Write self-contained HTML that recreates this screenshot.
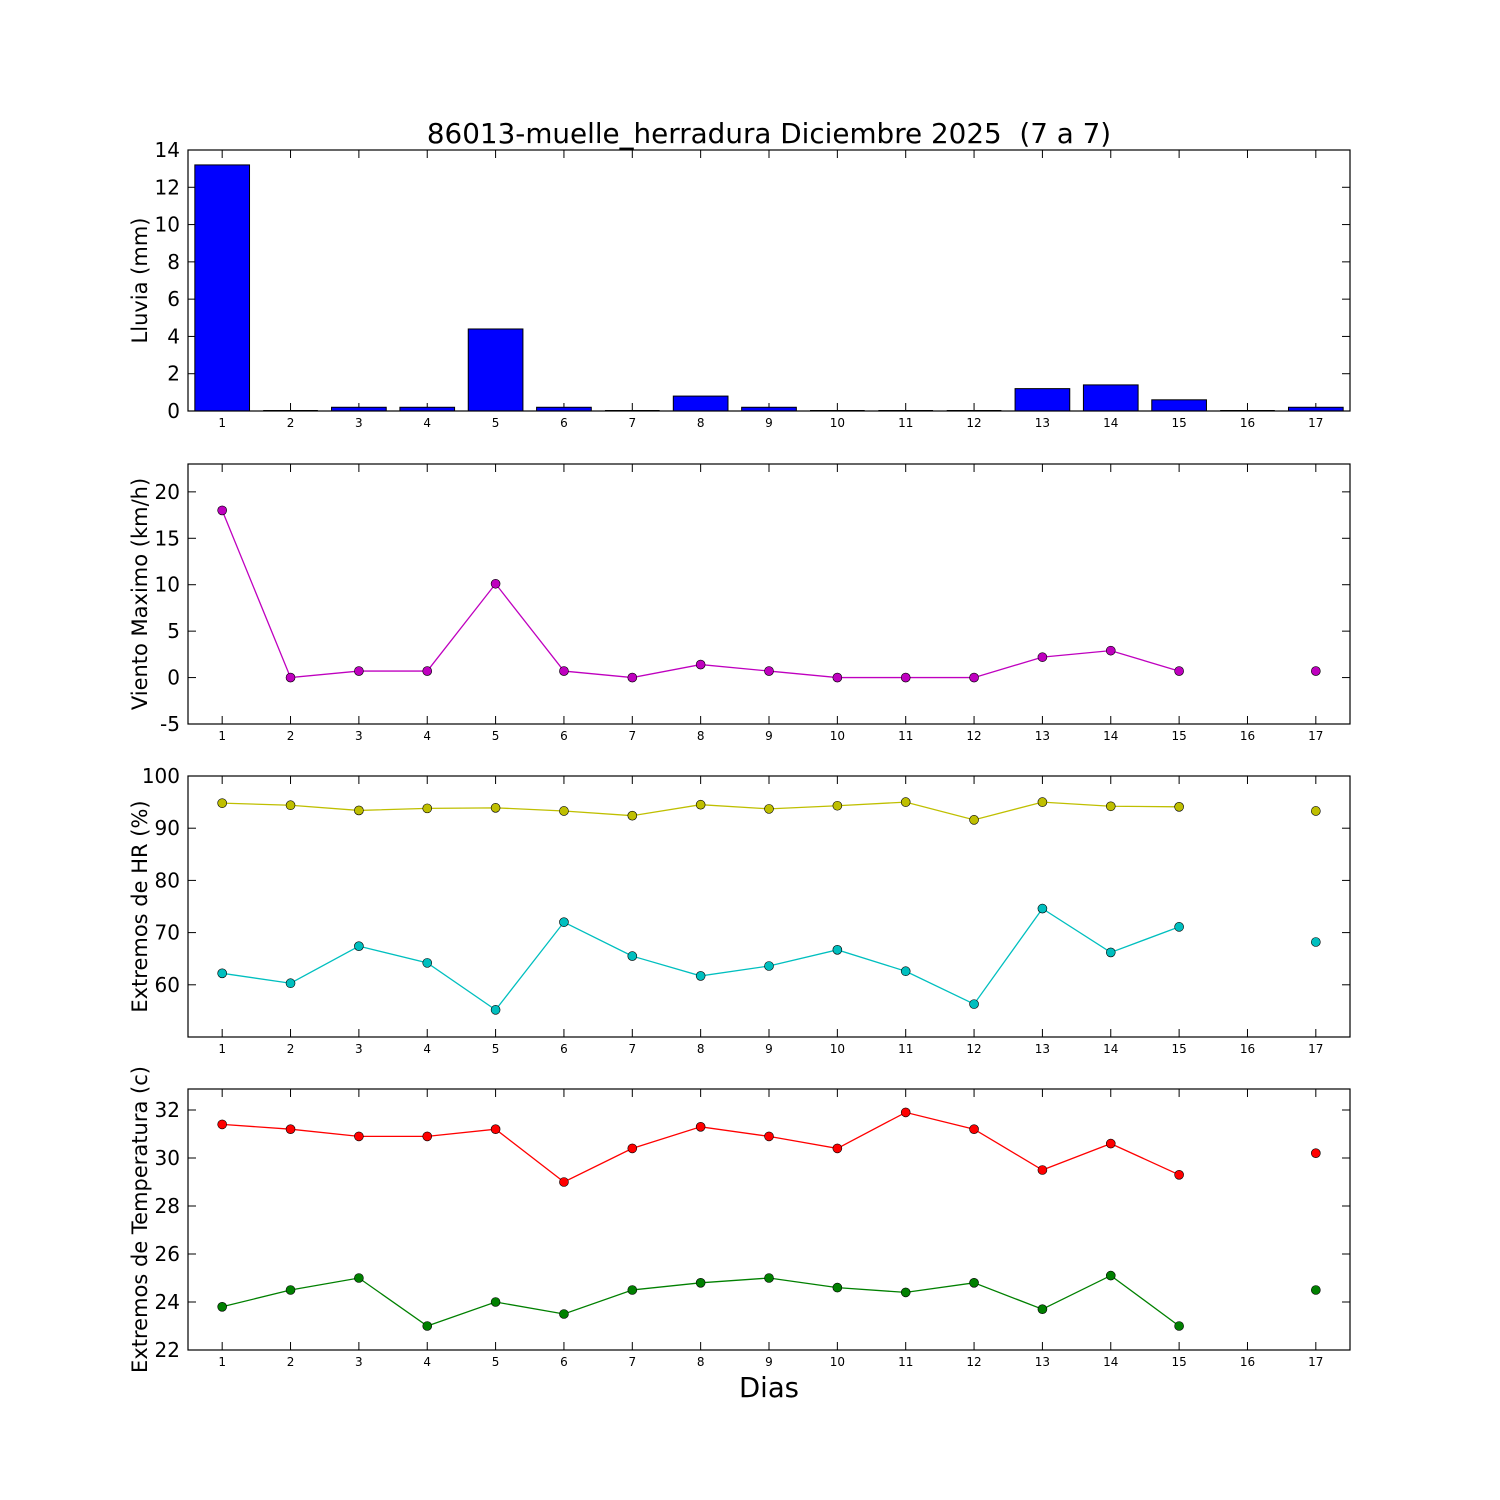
<!DOCTYPE html>
<html><head><meta charset="utf-8"><style>
html,body{margin:0;padding:0;background:#fff;}
svg{display:block;font-family:"DejaVu Sans","Liberation Sans",sans-serif;}
</style></head><body>
<svg id="chart" width="1500" height="1500" viewBox="0 0 1500 1500">
<rect x="0" y="0" width="1500" height="1500" fill="#fff"/>
<text x="769" y="143" font-size="27.8" text-anchor="middle">86013-muelle_herradura Diciembre 2025 &#160;(7 a 7)</text>
<text x="769" y="1397" font-size="27.5" text-anchor="middle">Dias</text>
</svg>
<script>
const days = [1,2,3,4,5,6,7,8,9,10,11,12,13,14,15,16,17];
const rain = [13.2,0,0.2,0.2,4.4,0.2,0,0.8,0.2,0,0,0,1.2,1.4,0.6,0,0.2];
const wind = [18,0,0.7,0.7,10.1,0.7,0,1.4,0.7,0,0,0,2.2,2.9,0.7,null,0.7];
const hrMax = [94.8,94.4,93.4,93.8,93.9,93.3,92.4,94.5,93.7,94.3,95,91.6,95,94.2,94.1,null,93.3];
const hrMin = [62.2,60.3,67.4,64.2,55.2,72,65.5,61.7,63.6,66.7,62.6,56.3,74.6,66.2,71.1,null,68.2];
const tMax = [31.4,31.2,30.9,30.9,31.2,29,30.4,31.3,30.9,30.4,31.9,31.2,29.5,30.6,29.3,null,30.2];
const tMin = [23.8,24.5,25,23,24,23.5,24.5,24.8,25,24.6,24.4,24.8,23.7,25.1,23,null,24.5];
const rainTicks = [0,2,4,6,8,10,12,14];
const windTicks = [-5,0,5,10,15,20];
const hrTicks = [60,70,80,90,100];
const tTicks = [22,24,26,28,30,32];

const NS="http://www.w3.org/2000/svg";
const svg=document.getElementById('chart');
const L=188,R=1350;
function X(d){return L+(d-0.5)/17*(R-L);}
function mk(tag,attrs,parent){const e=document.createElementNS(NS,tag);for(const k in attrs)e.setAttribute(k,attrs[k]);(parent||svg).appendChild(e);return e;}

function panel(name,top,bot,ymin,ymax,ticks,label){
  const g=mk('g',{});
  
  
  const Y=v=>bot-(v-ymin)/(ymax-ymin)*(bot-top);
  ticks.forEach(t=>{
    const y=Y(t);
    mk('line',{x1:L,x2:L+8,y1:y,y2:y,stroke:'#000','stroke-width':1},g);
    mk('line',{x1:R,x2:R-8,y1:y,y2:y,stroke:'#000','stroke-width':1},g);
    const tx=mk('text',{x:L-8,y:y+7,'font-size':20,'text-anchor':'end'},g);
    tx.textContent=t;
    
    
  });
  days.forEach(d=>{
    const x=X(d);
    mk('line',{x1:x,x2:x,y1:bot,y2:bot-8,stroke:'#000','stroke-width':1},g);
    mk('line',{x1:x,x2:x,y1:top,y2:top+8,stroke:'#000','stroke-width':1},g);
    const tx=mk('text',{x:x,y:bot+16,'font-size':12,'text-anchor':'middle'},g);
    tx.textContent=d;
    
    
  });
  const cy=(top+bot)/2;
  const yl=mk('text',{x:0,y:0,'font-size':21,'text-anchor':'middle',transform:`translate(147,${cy}) rotate(-90)`},g);
  yl.textContent=label;
  
  
  return {g,Y,top,bot};
}
function frame(p,name){
  const r=mk('rect',{x:L,y:p.top,width:R-L,height:p.bot-p.top,fill:'none',stroke:'#000','stroke-width':1.2},p.g);
  
  
}
function series(p,vals,color,name){
  let seg=[];
  const segs=[];
  vals.forEach((v,i)=>{if(v===null){if(seg.length)segs.push(seg);seg=[];}else seg.push([X(days[i]),p.Y(v)]);});
  if(seg.length)segs.push(seg);
  segs.forEach(s=>{if(s.length>1){const pl=mk('polyline',{points:s.map(q=>q.join(',')).join(' '),fill:'none',stroke:color,'stroke-width':1.3},p.g);
    
    }});
  vals.forEach((v,i)=>{if(v===null)return;
    const c=mk('circle',{cx:X(days[i]),cy:p.Y(v),r:4.5,fill:color,stroke:'#000','stroke-width':0.6},p.g);
    
    });
}

const p1=panel('rain',150,411,0,14,rainTicks,'Lluvia (mm)');
const bw=0.8/17*(R-L);
rain.forEach((v,i)=>{
  const y=p1.Y(v);
  if(v===0){
    const z=mk('line',{x1:X(days[i])-bw/2,x2:X(days[i])+bw/2,y1:p1.bot-0.5,y2:p1.bot-0.5,stroke:'#000','stroke-width':1},p1.g);
    
    
    return;
  }
  const b=mk('rect',{x:X(days[i])-bw/2,y:y,width:bw,height:p1.bot-y,fill:'#0000ff',stroke:'#000','stroke-width':1},p1.g);
  
  
});
frame(p1,'rain');

const p2=panel('wind',464,724,-5,23,windTicks,'Viento Maximo (km/h)');
series(p2,wind,'#bf00bf','wind');
frame(p2,'wind');

const p3=panel('humidity',776,1037,50,100,hrTicks,'Extremos de HR (%)');
series(p3,hrMax,'#bfbf00','humidity-max');
series(p3,hrMin,'#00bfbf','humidity-min');
frame(p3,'humidity');

const p4=panel('temperature',1089,1350,22,32.875,tTicks,'Extremos de Temperatura (c)');
series(p4,tMax,'#ff0000','temperature-max');
series(p4,tMin,'#008000','temperature-min');
frame(p4,'temperature');
</script>
</body></html>
